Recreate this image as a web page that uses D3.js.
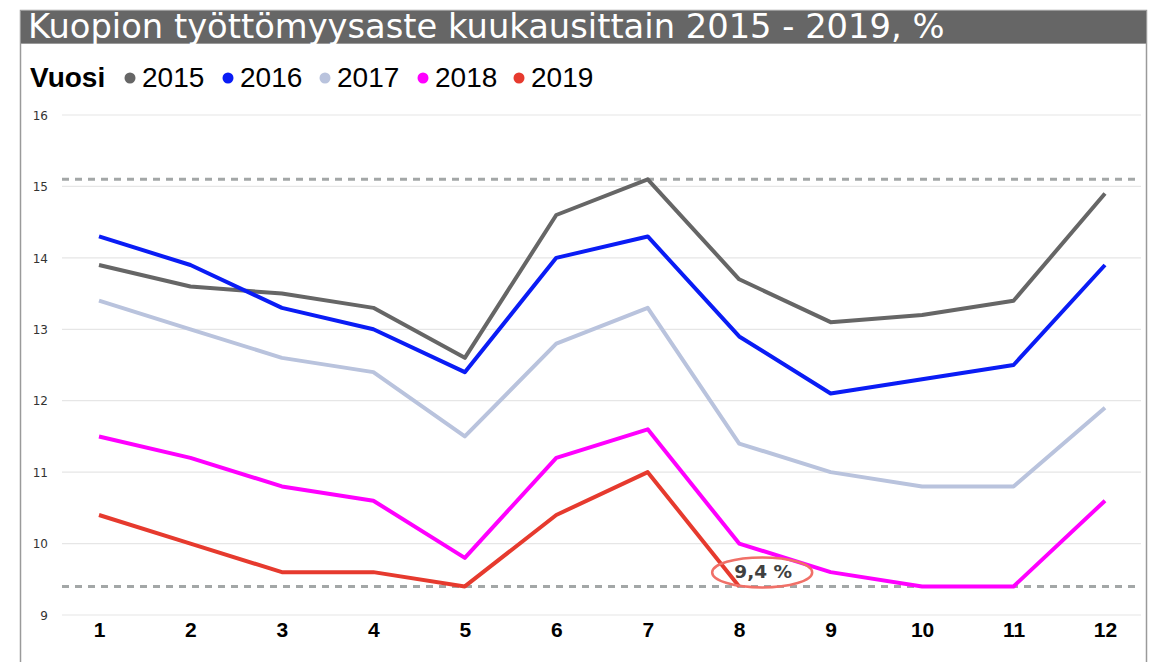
<!DOCTYPE html>
<html>
<head>
<meta charset="utf-8">
<script src="https://cdn.jsdelivr.net/npm/d3@7"></script>
<style>
  body { margin: 0; background: #fff; }
  svg { display: block; }
</style>
</head>
<body>
<div id="chart"></div>
<script>
// data
const months = [1, 2, 3, 4, 5, 6, 7, 8, 9, 10, 11, 12];
const years = ["2015", "2016", "2017", "2018", "2019"];
const v2015 = [13.9, 13.6, 13.5, 13.3, 12.6, 14.6, 15.1, 13.7, 13.1, 13.2, 13.4, 14.9];
const v2016 = [14.3, 13.9, 13.3, 13.0, 12.4, 14.0, 14.3, 12.9, 12.1, 12.3, 12.5, 13.9];
const v2017 = [13.4, 13.0, 12.6, 12.4, 11.5, 12.8, 13.3, 11.4, 11.0, 10.8, 10.8, 11.9];
const v2018 = [11.5, 11.2, 10.8, 10.6, 9.8, 11.2, 11.6, 10.0, 9.6, 9.4, 9.4, 10.6];
const v2019 = [10.4, 10.0, 9.6, 9.6, 9.4, 10.4, 11.0, 9.4];
const yTicks = [9, 10, 11, 12, 13, 14, 15, 16];
const refLines = [15.1, 9.4];
const colors = ["#666666", "#0a1cf5", "#b9c3dd", "#ff00ff", "#e63a2e"];

const width = 1158, height = 662;
const svg = d3.select("#chart").append("svg")
    .attr("width", width)
    .attr("height", height);

// frame + title bar
svg.append("rect")
    .attr("x", 20.5).attr("y", 10.5)
    .attr("width", 1126).attr("height", 670)
    .attr("fill", "#fff").attr("stroke", "#9a9a9a").attr("stroke-width", 1.5);
svg.append("rect")
    .attr("x", 20.5).attr("y", 10.5)
    .attr("width", 1126).attr("height", 33)
    .attr("fill", "#666666").attr("stroke", "#9a9a9a");

const title = svg.append("text")
    .attr("x", 28).attr("y", 38)
    .attr("fill", "#fff")
    .style("font-family", "DejaVu Sans, Verdana, sans-serif")
    .style("font-size", "28px")
    .text("Kuopion työttömyysaste kuukausittain 2015 - 2019, %");
const tw = title.node().getComputedTextLength();
title.style("font-size", (28 * 917 / tw) + "px");

// legend
const legend = svg.append("g").style("font-family", "Liberation Sans, Arial, sans-serif");
legend.append("text")
    .attr("x", 30).attr("y", 87)
    .style("font-size", "28px").style("font-weight", "bold")
    .text("Vuosi");
const legendX = [130, 228, 325, 423, 519];
years.forEach((yr, i) => {
    legend.append("circle")
        .attr("cx", legendX[i]).attr("cy", 78).attr("r", 5.5)
        .attr("fill", colors[i]);
    legend.append("text")
        .attr("x", legendX[i] + 12).attr("y", 87)
        .style("font-size", "28px")
        .text(yr);
});

// scales
const x = d3.scaleLinear().domain([1, 12]).range([99, 1105]);
const y = d3.scaleLinear().domain([9, 16]).range([615, 115]);

// gridlines
svg.append("g")
    .selectAll("line")
    .data(yTicks)
    .enter().append("line")
    .attr("x1", 62).attr("x2", 1141)
    .attr("y1", d => y(d)).attr("y2", d => y(d))
    .attr("stroke", "#e6e6e6").attr("stroke-width", 1.2);

// y labels
const yAxis = d3.axisLeft(y).tickValues(yTicks).tickFormat(d3.format("d")).tickSize(0).tickPadding(0);
const gy = svg.append("g").attr("transform", "translate(48,0)").call(yAxis);
gy.select(".domain").remove();
gy.selectAll("text")
    .attr("fill", "#333")
    .attr("dy", "0.35em")
    .style("font-family", "DejaVu Sans, Verdana, sans-serif")
    .style("font-size", "12px");

// x labels
const xAxis = d3.axisBottom(x).tickValues(months).tickSize(0).tickPadding(0);
const gx = svg.append("g").attr("transform", "translate(0,622)").call(xAxis);
gx.select(".domain").remove();
gx.selectAll("text")
    .attr("fill", "#000")
    .style("font-family", "Liberation Sans, Arial, sans-serif")
    .style("font-size", "21px")
    .style("font-weight", "bold");

// reference dashed lines
svg.append("g")
    .selectAll("line")
    .data(refLines)
    .enter().append("line")
    .attr("x1", 62).attr("x2", 1141)
    .attr("y1", d => y(d)).attr("y2", d => y(d))
    .attr("stroke", "#a3a7a7").attr("stroke-width", 3)
    .attr("stroke-dasharray", "7,6");

// series lines
const series = [v2015, v2016, v2017, v2018, v2019];
const line = d3.line()
    .x((d, i) => x(months[i]))
    .y(d => y(d));
// draw lighter lines first so darker stay on top as in the picture
const order = [2, 3, 0, 1, 4];
order.forEach(i => {
    svg.append("path")
        .datum(series[i])
        .attr("d", line)
        .attr("fill", "none")
        .attr("stroke", colors[i])
        .attr("stroke-width", 4)
        .attr("stroke-linejoin", "round");
});

// annotation
svg.append("ellipse")
    .attr("cx", x(8) + 23).attr("cy", y(9.4) - 14)
    .attr("rx", 50).attr("ry", 15)
    .attr("fill", "none")
    .attr("stroke", "#f07068").attr("stroke-width", 2.5);
svg.append("text")
    .attr("x", x(8) + 24).attr("y", y(9.4) - 8)
    .attr("text-anchor", "middle")
    .attr("fill", "#404040")
    .style("font-family", "DejaVu Sans, Verdana, sans-serif")
    .style("font-size", "18.5px")
    .style("font-weight", "bold")
    .text("9,4 %");
</script>
</body>
</html>
